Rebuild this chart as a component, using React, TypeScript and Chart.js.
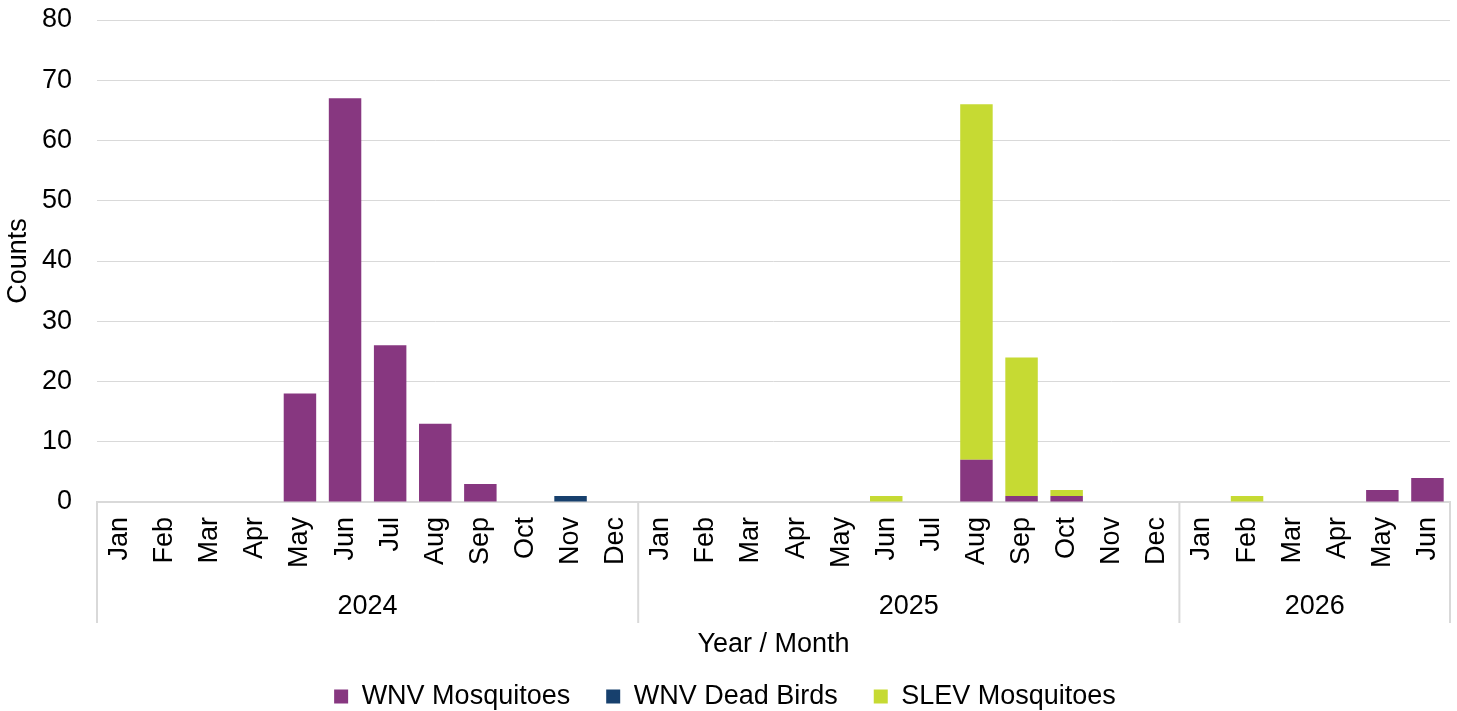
import React, { useEffect, useRef } from "react";
import { Chart, registerables } from "chart.js";

Chart.register(...registerables);

const months2024 = ["Jan", "Feb", "Mar", "Apr", "May", "Jun", "Jul", "Aug", "Sep", "Oct", "Nov", "Dec"];
const months2025 = ["Jan", "Feb", "Mar", "Apr", "May", "Jun", "Jul", "Aug", "Sep", "Oct", "Nov", "Dec"];
const months2026 = ["Jan", "Feb", "Mar", "Apr", "May", "Jun"];
const years = ["2024", "2025", "2026"];
const yearMonthCounts = [months2024.length, months2025.length, months2026.length];
const categories = [...months2024, ...months2025, ...months2026];

const wnvMosquitoes = [
  0, 0, 0, 0, 18, 67, 26, 13, 3, 0, 0, 0,
  0, 0, 0, 0, 0, 0, 0, 7, 1, 1, 0, 0,
  0, 0, 0, 0, 2, 4,
];
const wnvDeadBirds = [
  0, 0, 0, 0, 0, 0, 0, 0, 0, 0, 1, 0,
  0, 0, 0, 0, 0, 0, 0, 0, 0, 0, 0, 0,
  0, 0, 0, 0, 0, 0,
];
const slevMosquitoes = [
  0, 0, 0, 0, 0, 0, 0, 0, 0, 0, 0, 0,
  0, 0, 0, 0, 0, 1, 0, 59, 23, 1, 0, 0,
  0, 1, 0, 0, 0, 0,
];

const yTicks = [0, 10, 20, 30, 40, 50, 60, 70, 80];

const FONT = "'Liberation Sans', Arial, sans-serif";
const FS = 27;
const GRID = "#d9d9d9";

const yearGroupPlugin = {
  id: "yearGroups",
  afterDraw(chart: any) {
    const x = chart.scales.x;
    const ctx = chart.ctx;
    const step = x.getPixelForValue(1) - x.getPixelForValue(0);
    const top = chart.chartArea.bottom;
    ctx.save();
    ctx.strokeStyle = GRID;
    ctx.lineWidth = 2;
    ctx.fillStyle = "#000";
    ctx.font = `${FS}px ${FONT}`;
    ctx.textAlign = "center";
    ctx.textBaseline = "middle";
    let start = 0;
    years.forEach((yr, i) => {
      const end = start + yearMonthCounts[i];
      const left = x.getPixelForValue(start) - step / 2;
      const right = x.getPixelForValue(end - 1) + step / 2;
      ctx.beginPath();
      ctx.moveTo(left, top);
      ctx.lineTo(left, top + 121);
      ctx.stroke();
      if (i === years.length - 1) {
        ctx.beginPath();
        ctx.moveTo(right, top);
        ctx.lineTo(right, top + 121);
        ctx.stroke();
      }
      ctx.fillText(yr, (left + right) / 2, top + 105);
      start = end;
    });
    ctx.restore();
  },
};

export default function App() {
  const ref = useRef<HTMLCanvasElement | null>(null);
  useEffect(() => {
    if (!ref.current) return;
    const chart = new Chart(ref.current, {
      type: "bar",
      data: {
        labels: categories,
        datasets: [
          { label: "WNV Mosquitoes", data: wnvMosquitoes, backgroundColor: "#873780", stack: "s" },
          { label: "WNV Dead Birds", data: wnvDeadBirds, backgroundColor: "#17406d", stack: "s" },
          { label: "SLEV Mosquitoes", data: slevMosquitoes, backgroundColor: "#c6da33", stack: "s" },
        ],
      },
      options: {
        animation: false,
        responsive: false,
        maintainAspectRatio: false,
        layout: { padding: { top: 20, right: 7, left: 0, bottom: 0 } },
        datasets: { bar: { barPercentage: 0.72, categoryPercentage: 1 } },
        plugins: {
          legend: {
            position: "bottom",
            maxHeight: 64,
            labels: {
              boxWidth: 14,
              boxHeight: 14,
              padding: 36,
              color: "#000",
              font: { family: FONT, size: FS },
            },
          },
          tooltip: { enabled: false },
        },
        scales: {
          x: {
            stacked: true,
            grid: { display: false },
            border: { display: true, color: GRID, width: 2 },
            ticks: {
              color: "#000",
              font: { family: FONT, size: FS },
              minRotation: 90,
              maxRotation: 90,
              autoSkip: false,
              padding: 7,
            },
            title: {
              display: true,
              text: "Year / Month",
              color: "#000",
              font: { family: FONT, size: FS },
              padding: { top: 0, bottom: -14 },
            },
            afterFit(scale: any) {
              scale.height = 145;
              scale.paddingLeft = 0;
              scale.paddingRight = 0;
            },
          },
          y: {
            stacked: true,
            min: 0,
            max: 80,
            afterBuildTicks(scale: any) {
              scale.ticks = yTicks.map((v) => ({ value: v }));
            },
            afterFit(scale: any) {
              scale.width = 97;
              scale.paddingTop = 0;
              scale.paddingBottom = 0;
            },
            grid: { color: GRID, lineWidth: 1, drawTicks: false },
            border: { display: false },
            ticks: {
              color: "#000",
              font: { family: FONT, size: FS },
              padding: 25,
            },
            title: {
              display: true,
              text: "Counts",
              color: "#000",
              font: { family: FONT, size: FS },
              padding: { top: 2, bottom: 7 },
            },
          },
        },
      },
      plugins: [yearGroupPlugin],
    });
    return () => chart.destroy();
  }, []);
  return (
    <div style={{ position: "absolute", left: 0, top: 0, width: 1457, height: 711 }}>
      <canvas ref={ref} width={1457} height={711} style={{ display: "block" }} />
    </div>
  );
}
